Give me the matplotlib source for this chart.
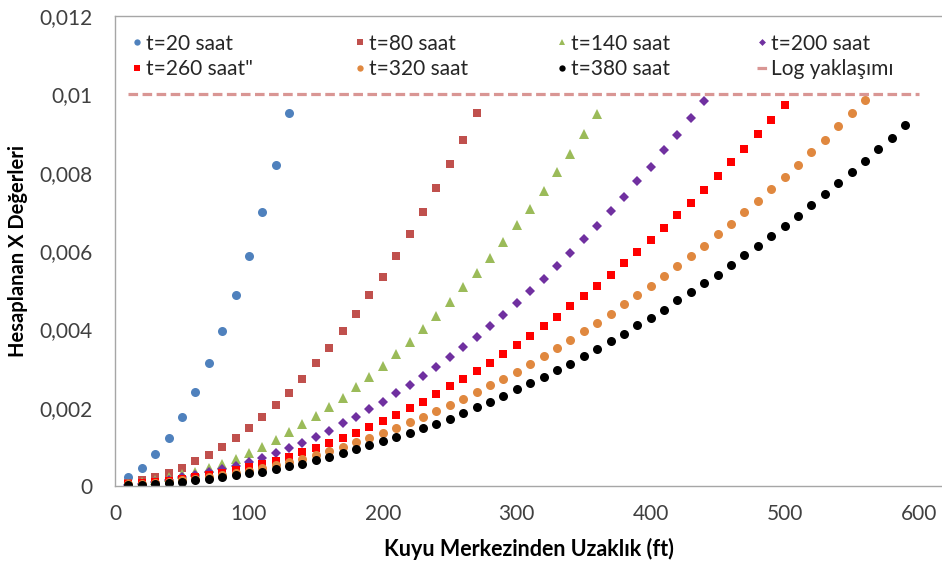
import numpy as np
import matplotlib
matplotlib.use('Agg')
from matplotlib import pyplot as plt

plt.rcParams['font.family'] = ['Lato', 'DejaVu Sans']

# mesafe (ft) - her seri 10 ft aralikla
r20 = [10, 20, 30, 40, 50, 60, 70, 80, 90, 100, 110, 120, 130]
x20 = [0.00022, 0.00047, 0.00082, 0.00123, 0.00176, 0.00239, 0.00313, 0.00396,
       0.00488, 0.00587, 0.00699, 0.00820, 0.00952]

r80 = list(range(10, 280, 10))
x80 = [0.00008, 0.00015, 0.00024, 0.00034, 0.00047, 0.00063, 0.00080, 0.00099,
       0.00123, 0.00149, 0.00175, 0.00208, 0.00238, 0.00273, 0.00313, 0.00353,
       0.00396, 0.00440, 0.00488, 0.00534, 0.00588, 0.00643, 0.00699, 0.00760,
       0.00821, 0.00884, 0.00952]

r140 = list(range(10, 370, 10))
x140 = [0.00004, 0.00009, 0.00015, 0.00022, 0.00030, 0.00036, 0.00045, 0.00055,
        0.00069, 0.00085, 0.00100, 0.00117, 0.00137, 0.00158, 0.00179, 0.00201,
        0.00225, 0.00252, 0.00278, 0.00306, 0.00336, 0.00368, 0.00400, 0.00434,
        0.00469, 0.00507, 0.00545, 0.00583, 0.00624, 0.00666, 0.00708, 0.00753,
        0.00802, 0.00848, 0.00899, 0.00949]

r200 = list(range(10, 450, 10))
x200 = [0.00003, 0.00006, 0.00010, 0.00015, 0.00022, 0.00028, 0.00035, 0.00043,
        0.00051, 0.00061, 0.00072, 0.00083, 0.00096, 0.00111, 0.00126, 0.00141,
        0.00160, 0.00175, 0.00196, 0.00215, 0.00237, 0.00258, 0.00281, 0.00305,
        0.00329, 0.00354, 0.00381, 0.00408, 0.00437, 0.00466, 0.00498, 0.00529,
        0.00562, 0.00596, 0.00630, 0.00665, 0.00701, 0.00739, 0.00779, 0.00814,
        0.00858, 0.00897, 0.00939, 0.00984]

r260 = list(range(10, 510, 10))
x260 = [0.00005, 0.00007, 0.00009, 0.00014, 0.00018, 0.00022, 0.00028, 0.00034,
        0.00041, 0.00048, 0.00056, 0.00065, 0.00075, 0.00086, 0.00097, 0.00111,
        0.00123, 0.00136, 0.00151, 0.00165, 0.00182, 0.00199, 0.00215, 0.00234,
        0.00255, 0.00274, 0.00294, 0.00315, 0.00337, 0.00360, 0.00384, 0.00408,
        0.00432, 0.00459, 0.00484, 0.00511, 0.00540, 0.00569, 0.00598, 0.00627,
        0.00660, 0.00691, 0.00723, 0.00757, 0.00791, 0.00826, 0.00860, 0.00898,
        0.00934, 0.00972]

r320 = list(range(10, 570, 10))
x320 = [0.00004, 0.00006, 0.00008, 0.00011, 0.00015, 0.00018, 0.00023, 0.00028,
        0.00033, 0.00039, 0.00045, 0.00053, 0.00061, 0.00070, 0.00079, 0.00089,
        0.00100, 0.00112, 0.00123, 0.00136, 0.00149, 0.00163, 0.00176, 0.00191,
        0.00207, 0.00223, 0.00239, 0.00257, 0.00274, 0.00292, 0.00311, 0.00332,
        0.00352, 0.00374, 0.00396, 0.00416, 0.00439, 0.00464, 0.00487, 0.00511,
        0.00535, 0.00562, 0.00588, 0.00614, 0.00643, 0.00670, 0.00699, 0.00728,
        0.00759, 0.00788, 0.00820, 0.00852, 0.00883, 0.00918, 0.00952, 0.00985]

r380 = list(range(10, 600, 10))
x380 = [0.00002, 0.00003, 0.00006, 0.00008, 0.00011, 0.00015, 0.00019, 0.00022,
        0.00027, 0.00032, 0.00037, 0.00043, 0.00050, 0.00056, 0.00066, 0.00075,
        0.00083, 0.00094, 0.00104, 0.00114, 0.00124, 0.00135, 0.00148, 0.00159,
        0.00172, 0.00187, 0.00202, 0.00214, 0.00231, 0.00247, 0.00262, 0.00279,
        0.00296, 0.00312, 0.00331, 0.00350, 0.00371, 0.00389, 0.00410, 0.00428,
        0.00450, 0.00474, 0.00495, 0.00519, 0.00540, 0.00564, 0.00591, 0.00614,
        0.00638, 0.00665, 0.00690, 0.00717, 0.00746, 0.00773, 0.00802, 0.00831,
        0.00860, 0.00888, 0.00921]

r_log = [10, 600]
x_log = [0.01, 0.01]

yticks = [0, 0.002, 0.004, 0.006, 0.008, 0.01, 0.012]
ytick_labels = ['0', '0,002', '0,004', '0,006', '0,008', '0,01', '0,012']
xticks = [0, 100, 200, 300, 400, 500, 600]

fig = plt.figure(figsize=(9.42, 5.63), dpi=100)
ax = fig.add_axes([115/942, 77/563, 827/942, 470/563])

h20, = ax.plot(r20, x20, 'o', color='#4F81BD', ms=6.5, mew=0, label='t=20 saat')
h80, = ax.plot(r80, x80, 's', color='#C0504D', ms=6, mew=0, label='t=80 saat')
h140, = ax.plot(r140, x140, '^', color='#9BBB59', ms=7, mew=0, label='t=140 saat')
h200, = ax.plot(r200, x200, 'D', color='#7030A0', ms=5, mew=0, label='t=200 saat')
h260, = ax.plot(r260, x260, 's', color='#FF0000', ms=6.3, mew=0, label='t=260 saat"')
h320, = ax.plot(r320, x320, 'o', color='#E0883F', ms=6.5, mew=0, label='t=320 saat')
h380, = ax.plot(r380, x380, 'o', color='#000000', ms=6.5, mew=0, label='t=380 saat')
hlog, = ax.plot(r_log, x_log, '-', color='#D99694', lw=2.3, dashes=(3, 1.4),
                label='Log yaklaşımı')

ax.set_xlim(0, 617.5)
ax.set_ylim(0, 0.012)
ax.set_xticks(xticks)
ax.set_yticks(yticks)
ax.set_yticklabels(ytick_labels)
ax.tick_params(length=0, labelsize=15, colors='#404040')
ax.tick_params(axis='x', pad=13)
ax.tick_params(axis='y', pad=16)

for s in ['left', 'bottom', 'top']:
    ax.spines[s].set_color('#A6A6A6')
    ax.spines[s].set_linewidth(1)
ax.spines['right'].set_visible(False)

ax.set_xlabel('Kuyu Merkezinden Uzaklık (ft)', fontsize=15.5, fontweight='bold',
              labelpad=10)
ax.set_ylabel('Hesaplanan X Değerleri', fontsize=14.5, fontweight='bold',
              labelpad=8)

# legend: 4 sutun, her biri ayri
cols = [(h20, h260), (h80, h320), (h140, h380), (h200, hlog)]
xs = [132, 355, 557, 757]
for i, (hs, x0) in enumerate(zip(cols, xs)):
    leg = ax.legend(hs, [h.get_label() for h in hs], loc='center left',
                    bbox_to_anchor=(x0/942, 1 - 56.5/563),
                    bbox_transform=fig.transFigure, frameon=False,
                    fontsize=15, handlelength=0.5, handletextpad=0.15,
                    markerscale=0.7, borderpad=0, borderaxespad=0,
                    labelspacing=0.28)
    for t in leg.get_texts():
        t.set_color('#262626')
    if i < 3:
        ax.add_artist(leg)

fig.savefig('out.png', dpi=100)
